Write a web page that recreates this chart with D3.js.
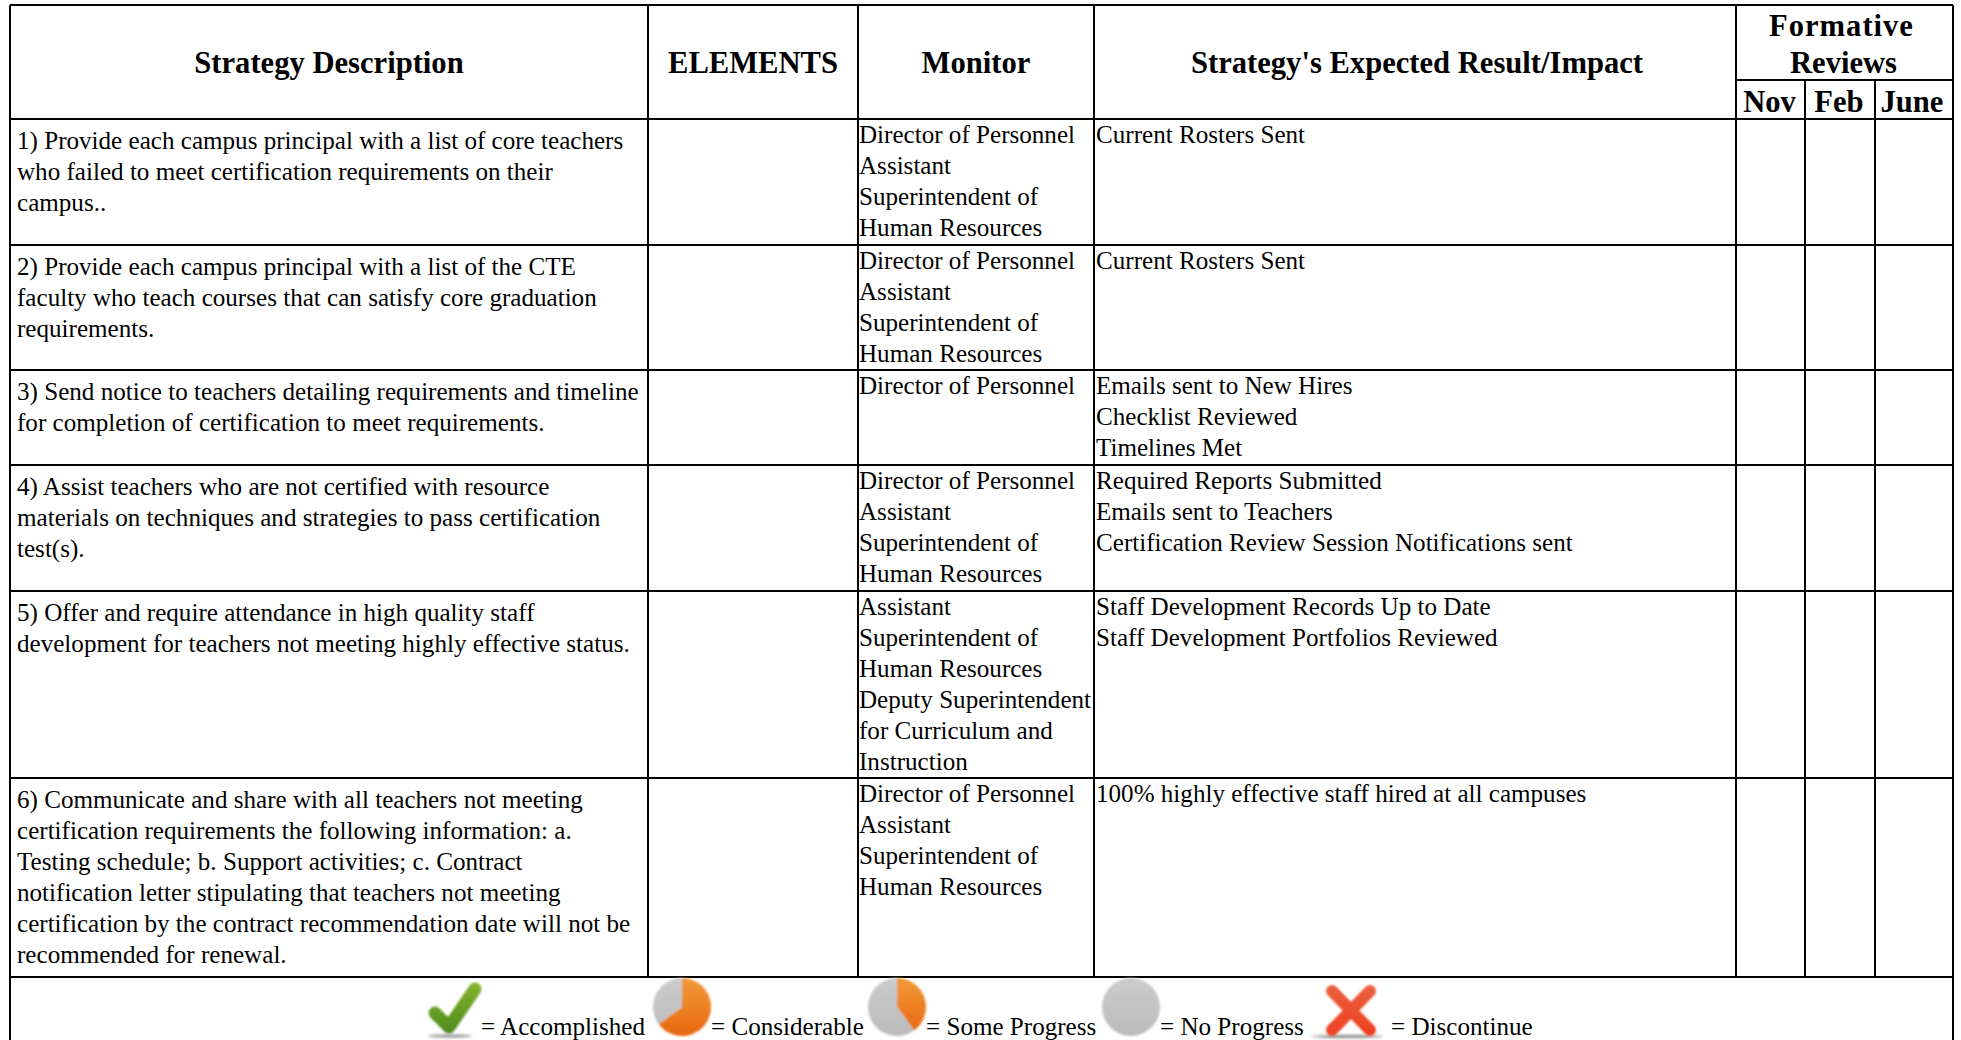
<!DOCTYPE html>
<html><head><meta charset="utf-8">
<script src="https://cdn.jsdelivr.net/npm/d3@7/dist/d3.min.js"></script>
<style>html,body{margin:0;padding:0;background:#fff;overflow:hidden}svg{display:block}text{font-family:"Liberation Serif",serif;fill:#000}</style>
</head><body><div id="c"></div>
<script>
const columns = ["Strategy Description","ELEMENTS","Monitor","Strategy's Expected Result/Impact","Nov","Feb","June"];
const formativeLines = ["Formative","Reviews"];
const strategies = [
 ["1) Provide each campus principal with a list of core teachers","who failed to meet certification requirements on their","campus.."],
 ["2) Provide each campus principal with a list of the CTE","faculty who teach courses that can satisfy core graduation","requirements."],
 ["3) Send notice to teachers detailing requirements and timeline","for completion of certification to meet requirements."],
 ["4) Assist teachers who are not certified with resource","materials on techniques and strategies to pass certification","test(s)."],
 ["5) Offer and require attendance in high quality staff","development for teachers not meeting highly effective status."],
 ["6) Communicate and share with all teachers not meeting","certification requirements the following information: a.","Testing schedule; b. Support activities; c. Contract","notification letter stipulating that teachers not meeting","certification by the contract recommendation date will not be","recommended for renewal."]
];
const monitors = [
 ["Director of Personnel","Assistant","Superintendent of","Human Resources"],
 ["Director of Personnel","Assistant","Superintendent of","Human Resources"],
 ["Director of Personnel"],
 ["Director of Personnel","Assistant","Superintendent of","Human Resources"],
 ["Assistant","Superintendent of","Human Resources","Deputy Superintendent","for Curriculum and","Instruction"],
 ["Director of Personnel","Assistant","Superintendent of","Human Resources"]
];
const results = [
 ["Current Rosters Sent"],
 ["Current Rosters Sent"],
 ["Emails sent to New Hires","Checklist Reviewed","Timelines Met"],
 ["Required Reports Submitted","Emails sent to Teachers","Certification Review Session Notifications sent"],
 ["Staff Development Records Up to Date","Staff Development Portfolios Reviewed"],
 ["100% highly effective staff hired at all campuses"]
];
const legendLabels = ["= Accomplished","= Considerable","= Some Progress","= No Progress","= Discontinue"];
const pieShares = [65,40];

const W=1961,H=1040;
const svg=d3.select("#c").append("svg").attr("width",W).attr("height",H);
const defs=svg.append("defs");
defs.append("filter").attr("id","soft").attr("x","-20%").attr("y","-20%").attr("width","140%").attr("height","140%").append("feGaussianBlur").attr("stdDeviation",0.8);
defs.append("filter").attr("id","shadow").attr("x","-30%").attr("y","-200%").attr("width","160%").attr("height","500%").append("feGaussianBlur").attr("stdDeviation",1.6);
function grad(id,a,b){const g=defs.append("linearGradient").attr("id",id).attr("gradientUnits","userSpaceOnUse").attr("x1",0).attr("y1",a[0]).attr("x2",0).attr("y2",b[0]);g.append("stop").attr("offset",0).attr("stop-color",a[1]);g.append("stop").attr("offset",1).attr("stop-color",b[1]);}
grad("gO",[-29,"#f29a3a"],[29,"#e8670f"]);grad("gG",[-29,"#cbcbcb"],[29,"#bcbcbc"]);grad("gC",[983,"#85b52f"],[1033,"#4f8a1e"]);grad("gX",[986,"#ea5f3c"],[1035,"#ee3f22"]);

const x=d3.scaleOrdinal().domain(columns.concat("end")).range([10,648,858,1094,1736,1805,1875,1953]);
const y=d3.scaleOrdinal().domain(["head",0,1,2,3,4,5,"legend"]).range([5,119,245,370,465,591,778,977]);
const rowKeys=[0,1,2,3,4,5];
const nextRow=k=>k===5?"legend":k+1;
const fs=25.1, lh=30.9;

const lines=svg.append("g").attr("stroke","#000").attr("stroke-width",2).attr("shape-rendering","crispEdges");
const hl=(x1,x2,yy)=>lines.append("line").attr("x1",x1).attr("x2",x2).attr("y1",yy).attr("y2",yy);
const vl=(xx,y1,y2)=>lines.append("line").attr("x1",xx).attr("x2",xx).attr("y1",y1).attr("y2",y2);
const L=x("Strategy Description"),R=x("end");
hl(L,R,y("head"));
hl(L,R,y(0));
rowKeys.forEach(k=>hl(L,R,y(nextRow(k))));
hl(x("Nov"),R,80);
vl(L,y("head"),H);
["ELEMENTS","Monitor","Strategy's Expected Result/Impact"].forEach(c=>vl(x(c),y("head"),y("legend")));
vl(x("Nov"),y("head"),y("legend"));
["Feb","June"].forEach(c=>vl(x(c),80,y("legend")));
vl(R,y("head"),H);

const mid=(a,b)=>(x(a)+x(b))/2;
const head=svg.append("g").attr("font-weight","700").attr("font-size",30.6).attr("text-anchor","middle");
[["Strategy Description","ELEMENTS",0],["ELEMENTS","Monitor",0],["Monitor","Strategy's Expected Result/Impact",0],["Strategy's Expected Result/Impact","Nov",2]].forEach(([a,b,d])=>{
  head.append("text").attr("x",mid(a,b)+d).attr("y",73).text(a);
});
const fc=(x("Nov")+x("end"))/2-3;
head.selectAll(".f").data(formativeLines).join("text").attr("x",(d,i)=>fc+(i?2:0)).attr("y",(d,i)=>36+i*37).attr("letter-spacing",(d,i)=>i===0?1:0).text(d=>d);
head.append("text").attr("x",mid("Nov","Feb")-1).attr("y",112).text("Nov");
head.append("text").attr("x",mid("Feb","June")-1).attr("y",112).text("Feb");
head.append("text").attr("x",mid("June","end")-2).attr("y",112).text("June");

const body=svg.append("g").attr("font-size",fs);
function cell(arr,col,dx,off){
  arr.forEach((ls,k)=>{
    body.append("g").selectAll("text").data(ls).join("text")
      .attr("x",x(col)+dx).attr("y",(d,i)=>y(k)+off+i*lh).text(d=>d);
  });
}
cell(strategies,"Strategy Description",7,30);
cell(monitors,"Monitor",1,24);
cell(results,"Strategy's Expected Result/Impact",2,24);

// legend
const leg=svg.append("g");
const base=1035;
const lt=leg.append("g").attr("font-size",fs);
[481,711,926,1160,1391].forEach((px,i)=>lt.append("text").attr("x",px).attr("y",base).text(legendLabels[i]));

const pie=d3.pie().sort(null);
const arc=d3.arc().innerRadius(0).outerRadius(29);
[682,897].forEach((cx,i)=>{
  const g=leg.append("g").attr("transform",`translate(${cx},1007)`).attr("filter","url(#soft)");
  const s=pieShares[i];
  pie([s,100-s]).forEach((p,j)=>g.append("path").attr("d",arc(p)).attr("fill",j===0?"url(#gO)":"url(#gG)"));
});
leg.append("g").attr("transform","translate(1131,1007)").append("circle").attr("r",29).attr("fill","url(#gG)").attr("filter","url(#soft)");
// check
leg.append("ellipse").attr("cx",450).attr("cy",1036).attr("rx",22).attr("ry",1.5).attr("fill","#888").attr("filter","url(#shadow)");
leg.append("path").attr("d","M435 1013 L449 1027 L475 989").attr("fill","none").attr("stroke","url(#gC)").attr("stroke-width",13).attr("stroke-linecap","round").attr("stroke-linejoin","round").attr("filter","url(#soft)");
// cross
leg.append("ellipse").attr("cx",1347).attr("cy",1036.5).attr("rx",36).attr("ry",1.5).attr("fill","#888").attr("filter","url(#shadow)");
leg.append("path").attr("d","M1332 991 L1370 1030 M1370 991 L1332 1030").attr("fill","none").attr("stroke","url(#gX)").attr("stroke-width",12).attr("stroke-linecap","round").attr("filter","url(#soft)");
</script></body></html>
